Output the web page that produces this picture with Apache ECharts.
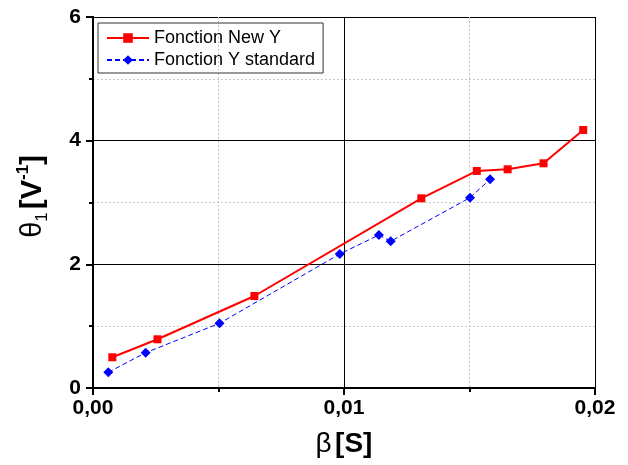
<!DOCTYPE html>
<html>
<head>
<meta charset="utf-8">
<script src="https://cdn.jsdelivr.net/npm/echarts@6/dist/echarts.min.js"></script>
<style>html,body{margin:0;padding:0;background:#fff}#c{width:628px;height:465px}</style>
</head>
<body>
<div id="c"></div>
<script>
const seriesNames = ['Fonction New Y', 'Fonction Y standard'];
const newYx = [0.00077, 0.00257, 0.00643, 0.01308, 0.01529, 0.01652, 0.01795, 0.01953];
const newYy = [0.497, 0.788, 1.488, 3.068, 3.51, 3.537, 3.634, 4.173];
const stdYx = [0.00061, 0.0021, 0.00504, 0.00983, 0.01139, 0.01186, 0.01502, 0.01582];
const stdYy = [0.254, 0.571, 1.046, 2.167, 2.474, 2.373, 3.078, 3.375];
const xTicks = [0, 0.01, 0.02];
const yTicks = [0, 2, 4, 6];

const FONT = "'Liberation Sans', Arial, sans-serif";
const pair = (xs, ys) => xs.map((x, i) => [x, ys[i]]);

const chart = echarts.init(document.getElementById('c'), null, {renderer: 'canvas'});

const axisLineStyle = {show: true, lineStyle: {color: '#000', width: 2}};
const majorSplit = {show: true, lineStyle: {color: '#000', width: 1, type: 'solid'}};
const minorSplit = {show: true, lineStyle: {color: '#c8c8c8', width: 1, type: [2, 2]}};

chart.setOption({
  animation: false,
  backgroundColor: '#fff',
  grid: {left: 93, right: 33, top: 17, bottom: 77, containLabel: false},
  legend: {
    orient: 'vertical',
    left: 98, top: 23,
    padding: [6, 8, 4, 8],
    borderColor: '#333', borderWidth: 1,
    itemWidth: 42, itemHeight: 12, itemGap: 4,
    textStyle: {fontFamily: FONT, fontSize: 18, color: '#000'},
    data: seriesNames
  },
  xAxis: [{
    type: 'value', position: 'bottom',
    min: xTicks[0], max: xTicks[xTicks.length - 1], interval: xTicks[1] - xTicks[0],
    axisLine: axisLineStyle,
    axisTick: {show: true, inside: false, length: 7, lineStyle: {color: '#000', width: 2}},
    minorTick: {show: true, splitNumber: 2, length: 4, lineStyle: {color: '#000', width: 2}},
    splitLine: majorSplit,
    minorSplitLine: minorSplit,
    axisLabel: {fontFamily: FONT, fontSize: 21, fontWeight: 'bold', color: '#000', margin: 10,
      formatter: v => v.toFixed(2).replace('.', ',')},
    name: '{g|β} {b|[S]}',
    nameLocation: 'middle', nameGap: 42,
    nameTextStyle: {rich: {
      g: {fontFamily: FONT, fontSize: 28, color: '#000'},
      b: {fontFamily: FONT, fontSize: 28, fontWeight: 'bold', color: '#000'}
    }}
  }, {
    type: 'value', position: 'top',
    min: xTicks[0], max: xTicks[xTicks.length - 1], interval: xTicks[1] - xTicks[0],
    axisLine: axisLineStyle,
    axisTick: {show: true, inside: true, length: 7, lineStyle: {color: '#000', width: 2}},
    minorTick: {show: true, splitNumber: 2, length: 4, lineStyle: {color: '#000', width: 2}},
    splitLine: {show: false}, axisLabel: {show: false}
  }],
  yAxis: [{
    type: 'value', position: 'left',
    min: yTicks[0], max: yTicks[yTicks.length - 1], interval: yTicks[1] - yTicks[0],
    axisLine: axisLineStyle,
    axisTick: {show: true, inside: false, length: 7, lineStyle: {color: '#000', width: 2}},
    minorTick: {show: true, splitNumber: 2, length: 4, lineStyle: {color: '#000', width: 2}},
    splitLine: majorSplit,
    minorSplitLine: minorSplit,
    axisLabel: {fontFamily: FONT, fontSize: 21, fontWeight: 'bold', color: '#000', margin: 12},
    name: '{g|θ}{sub|1} {b|[V}{sup|-1}{b|]}',
    nameLocation: 'middle', nameGap: 42,
    nameTextStyle: {padding: [0, 0, 0, 12], rich: {
      g: {fontFamily: FONT, fontSize: 29, color: '#000', lineHeight: 36},
      sub: {fontFamily: FONT, fontSize: 17, color: '#000', lineHeight: 17, verticalAlign: 'bottom'},
      b: {fontFamily: FONT, fontSize: 29, fontWeight: 'bold', color: '#000', lineHeight: 36},
      sup: {fontFamily: FONT, fontSize: 17, fontWeight: 'bold', color: '#000', lineHeight: 17, verticalAlign: 'top'}
    }}
  }, {
    type: 'value', position: 'right',
    min: yTicks[0], max: yTicks[yTicks.length - 1], interval: yTicks[1] - yTicks[0],
    axisLine: axisLineStyle,
    axisTick: {show: true, inside: true, length: 7, lineStyle: {color: '#000', width: 2}},
    minorTick: {show: true, splitNumber: 2, length: 4, lineStyle: {color: '#000', width: 2}},
    splitLine: {show: false}, axisLabel: {show: false}
  }],
  series: [{
    name: seriesNames[0], type: 'line',
    data: pair(newYx, newYy),
    symbol: 'rect', symbolSize: 8,
    itemStyle: {color: '#ff0000'},
    lineStyle: {color: '#ff0000', width: 2},
    z: 5
  }, {
    name: seriesNames[1], type: 'line',
    data: pair(stdYx, stdYy),
    symbol: 'diamond', symbolSize: 10,
    itemStyle: {color: '#0000ff'},
    lineStyle: {color: '#0000ff', width: 1, type: [5, 3]},
    z: 4
  }]
});
</script>
</body>
</html>
